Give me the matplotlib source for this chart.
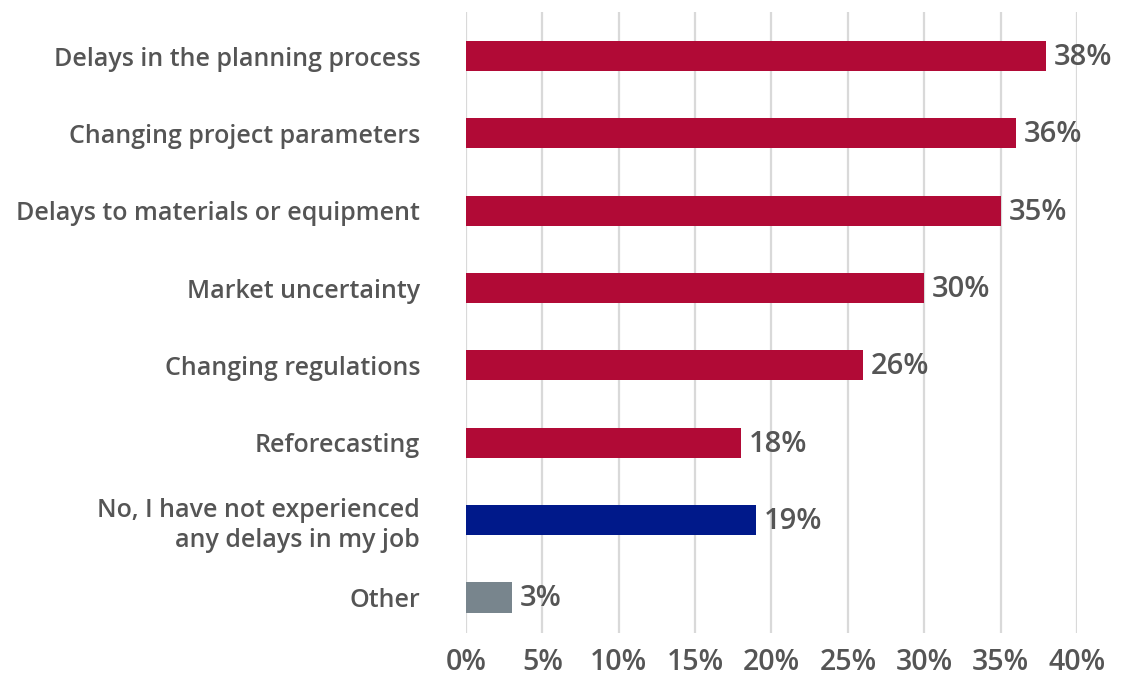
import matplotlib.pyplot as plt

# Reasons for delays, percent of respondents
categories = [
    'Delays in the planning process',
    'Changing project parameters',
    'Delays to materials or equipment',
    'Market uncertainty',
    'Changing regulations',
    'Reforecasting',
    'No, I have not experienced\nany delays in my job',
    'Other',
]
values = [38, 36, 35, 30, 26, 18, 19, 3]
colors = ['#B10A36'] * 6 + ['#00198A', '#78858D']
ticks = [0, 5, 10, 15, 20, 25, 30, 35, 40]

text_color = '#555555'
plt.rcParams['font.family'] = ['Open Sans', 'DejaVu Sans']

fig = plt.figure(figsize=(11.41, 6.77), dpi=100)
ax = fig.add_axes([0.4084, 0.065, 0.5355, 0.9173])

y = list(range(len(categories)))
ax.barh(y, values, height=0.39, color=colors, zorder=3)

for yi, v in zip(y, values):
    ax.text(v + 0.5, yi + 0.02, f'{v}%', va='center', ha='left',
            fontsize=21, color=text_color, fontweight='semibold')

ax.set_xlim(0, 40)
ax.set_ylim(7.46, -0.57)
ax.set_xticks(ticks)
ax.set_xticklabels([f'{t}%' for t in ticks], fontsize=20.5, color=text_color,
                   fontweight='semibold')
ax.set_yticks(y)
ax.set_yticklabels(categories, fontsize=18, color=text_color,
                   fontweight='semibold', linespacing=1.25)
ax.tick_params(axis='both', length=0)
ax.tick_params(axis='y', pad=33)
ax.tick_params(axis='x', pad=11)

ax.grid(axis='x', color='#D9D9D9', linewidth=1.6, zorder=0)
for s in ax.spines.values():
    s.set_visible(False)

fig.savefig('out.png', dpi=100)
